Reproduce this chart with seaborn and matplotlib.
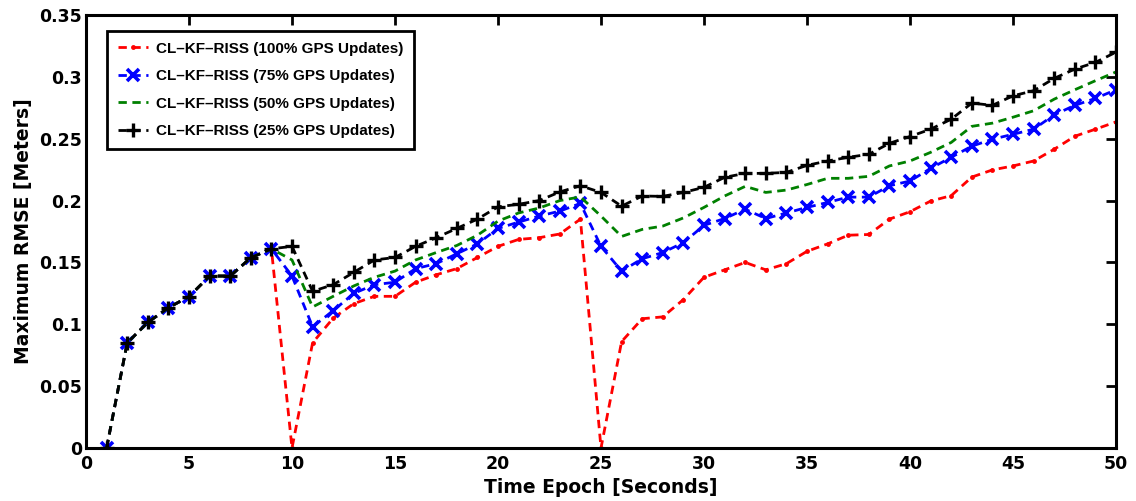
import numpy as np
import pandas as pd
import matplotlib
matplotlib.use("Agg")
import matplotlib.pyplot as plt
import seaborn as sns

epochs = list(range(1, 51))

common = [0.0, 0.085, 0.1015, 0.1134, 0.1224, 0.139, 0.139, 0.1538, 0.161]

rmse_100 = common + [0.0, 0.085, 0.105, 0.1167, 0.1226, 0.1226, 0.134, 0.140, 0.145, 0.154,
                     0.163, 0.1686, 0.170, 0.173, 0.185, 0.0, 0.086, 0.1045, 0.106, 0.120,
                     0.138, 0.144, 0.150, 0.144, 0.149, 0.159, 0.165, 0.172, 0.1726, 0.185,
                     0.191, 0.1996, 0.204, 0.219, 0.2248, 0.228, 0.232, 0.2415, 0.252, 0.2577,
                     0.2636]
rmse_75 = common + [0.139, 0.098, 0.111, 0.125, 0.132, 0.134, 0.145, 0.149, 0.157, 0.165,
                    0.1775, 0.1826, 0.1875, 0.1915, 0.1977, 0.163, 0.143, 0.153, 0.158, 0.166,
                    0.180, 0.1855, 0.193, 0.1855, 0.190, 0.1945, 0.1985, 0.2028, 0.2028, 0.212,
                    0.2158, 0.226, 0.235, 0.244, 0.2496, 0.2536, 0.2577, 0.2693, 0.277, 0.2826,
                    0.2896]
rmse_50 = common + [0.152, 0.114, 0.1226, 0.131, 0.138, 0.143, 0.152, 0.158, 0.1637, 0.172,
                    0.1834, 0.190, 0.194, 0.200, 0.203, 0.1875, 0.171, 0.1767, 0.1794, 0.186,
                    0.1945, 0.2037, 0.2115, 0.2066, 0.2085, 0.213, 0.218, 0.218, 0.2196, 0.228,
                    0.232, 0.239, 0.247, 0.260, 0.2626, 0.2674, 0.2726, 0.282, 0.2896, 0.2969,
                    0.304]
rmse_25 = common + [0.163, 0.1267, 0.132, 0.142, 0.152, 0.154, 0.163, 0.170, 0.1775, 0.185,
                    0.195, 0.197, 0.200, 0.207, 0.212, 0.2066, 0.1955, 0.2037, 0.2034, 0.2066,
                    0.2107, 0.2188, 0.222, 0.222, 0.2228, 0.2285, 0.232, 0.235, 0.2374, 0.2463,
                    0.2518, 0.2577, 0.2658, 0.2788, 0.277, 0.2847, 0.2888, 0.2988, 0.3063, 0.3117,
                    0.320]

labels = ["CL\u2013KF\u2013RISS (100% GPS Updates)",
          "CL\u2013KF\u2013RISS (75% GPS Updates)",
          "CL\u2013KF\u2013RISS (50% GPS Updates)",
          "CL\u2013KF\u2013RISS (25% GPS Updates)"]
series = [rmse_100, rmse_75, rmse_50, rmse_25]

x_ticks = list(range(0, 51, 5))
y_ticks = [0, 0.05, 0.1, 0.15, 0.2, 0.25, 0.3, 0.35]
y_tick_labels = ["0", "0.05", "0.1", "0.15", "0.2", "0.25", "0.3", "0.35"]

sns.set_theme(style="white")
plt.rcParams["font.family"] = ["DejaVu Sans"]
plt.rcParams["font.weight"] = "bold"
plt.rcParams["text.color"] = "black"
plt.rcParams["axes.labelcolor"] = "black"
plt.rcParams["xtick.color"] = "black"
plt.rcParams["ytick.color"] = "black"
plt.rcParams["xtick.labelcolor"] = "black"
plt.rcParams["ytick.labelcolor"] = "black"

fig, ax = plt.subplots(figsize=(11.36, 5.01), dpi=100)
fig.subplots_adjust(left=0.0757, right=0.9824, top=0.970, bottom=0.1058)

styles = [
    dict(color="#ff0000", marker="o", markersize=3.5, markeredgewidth=0,
         markeredgecolor="#ff0000", markerfacecolor="#ff0000"),
    dict(color="#0000ff", marker="x", markersize=8.5, markeredgewidth=2.6,
         markeredgecolor="#0000ff"),
    dict(color="#008000", marker=None),
    dict(color="#000000", marker="+", markersize=10, markeredgewidth=2.4,
         markeredgecolor="#000000"),
]

for lab, vals, st in zip(labels, series, styles):
    df = pd.DataFrame({"t": epochs, "v": vals})
    sns.lineplot(data=df, x="t", y="v", ax=ax, label=lab, linewidth=2,
                 linestyle=(0, (3.0, 2.0)), **st)

ax.set_xlim(0, 50)
ax.set_ylim(0, 0.35)
ax.set_xticks(x_ticks)
ax.set_xticklabels([str(t) for t in x_ticks])
ax.set_yticks(y_ticks)
ax.set_yticklabels(y_tick_labels)
ax.tick_params(axis="both", which="both", direction="in", length=7.2, width=2,
               top=True, right=True, labelsize=12.5, colors="black")
ax.tick_params(axis="x", pad=5)
ax.tick_params(axis="y", pad=3)
for lbl in ax.get_xticklabels() + ax.get_yticklabels():
    lbl.set_fontweight("bold")
    lbl.set_color("black")
for sp in ax.spines.values():
    sp.set_linewidth(2.2)
    sp.set_color("black")

ax.set_xlabel("Time Epoch [Seconds]", fontsize=13.5, fontweight="bold", labelpad=4,
              color="black")
ax.set_ylabel("Maximum RMSE [Meters]", fontsize=13.5, fontweight="bold", labelpad=4,
              color="black")

leg = ax.legend(loc="upper left", bbox_to_anchor=(0.0204, 0.963), borderaxespad=0,
                prop={"family": ["Liberation Sans", "DejaVu Sans"], "weight": "bold", "size": 11},
                frameon=True, fancybox=False, handlelength=2.0, handletextpad=0.5,
                borderpad=0.7, labelspacing=0.88)
leg.get_frame().set_edgecolor("black")
leg.get_frame().set_linewidth(2)
leg.get_frame().set_alpha(1)
for t in leg.get_texts():
    t.set_color("black")

fig.savefig("out.png", dpi=100)
